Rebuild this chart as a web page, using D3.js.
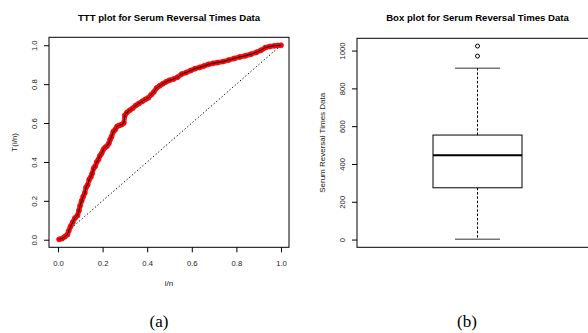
<!DOCTYPE html>
<html>
<head>
<meta charset="utf-8">
<script src="https://cdn.jsdelivr.net/npm/d3@7"></script>
<style>
  body { margin: 0; background: #fff; }
  svg { display: block; font-family: "Liberation Sans", Arial, sans-serif; }
</style>
</head>
<body>
<svg width="588" height="333"></svg>
<script>
// TTT curve: i/n and T(i/n)
var tttU = [0.005, 0.018, 0.030, 0.042, 0.048, 0.056, 0.066, 0.076, 0.087, 0.094,
    0.099, 0.106, 0.113, 0.120, 0.126, 0.133, 0.140, 0.147, 0.153, 0.160,
    0.167, 0.174, 0.181, 0.188, 0.196, 0.204, 0.212, 0.220, 0.228, 0.234,
    0.240, 0.248, 0.256, 0.265, 0.275, 0.285, 0.295, 0.300, 0.310, 0.322,
    0.335, 0.348, 0.362, 0.378, 0.392, 0.405, 0.418, 0.430, 0.442, 0.456,
    0.470, 0.485, 0.500, 0.518, 0.536, 0.555, 0.575, 0.595, 0.615, 0.635,
    0.655, 0.675, 0.695, 0.715, 0.740, 0.765, 0.790, 0.815, 0.840, 0.865,
    0.890, 0.910, 0.930, 0.950, 0.970, 0.985, 1.000];
var tttT = [0.002, 0.006, 0.015, 0.026, 0.045, 0.068, 0.090, 0.112, 0.124, 0.150,
    0.175, 0.200, 0.222, 0.240, 0.270, 0.282, 0.310, 0.322, 0.340, 0.368,
    0.378, 0.400, 0.412, 0.432, 0.445, 0.465, 0.475, 0.482, 0.496, 0.515,
    0.530, 0.556, 0.565, 0.583, 0.588, 0.592, 0.600, 0.640, 0.656, 0.666,
    0.676, 0.690, 0.700, 0.712, 0.722, 0.730, 0.746, 0.760, 0.780, 0.792,
    0.802, 0.812, 0.820, 0.826, 0.836, 0.852, 0.860, 0.870, 0.880, 0.886,
    0.894, 0.902, 0.907, 0.911, 0.916, 0.924, 0.932, 0.940, 0.946, 0.954,
    0.964, 0.974, 0.988, 0.994, 0.997, 0.999, 1.000];
var tttTicks = [0, 0.2, 0.4, 0.6, 0.8, 1.0];

// box plot summary (days)
var boxStats = {lo: 2, q1: 274, med: 446, q3: 553, hi: 907};
var boxOutliers = [971, 1024];
var boxTicks = [0, 200, 400, 600, 800, 1000];

var svg = d3.select("svg");
var tickFont = "7.7px", labFont = "8px", titleFont = "9.6px";

// ---------- (a) TTT plot ----------
var pa = {left: 49, right: 289, top: 37.3, bottom: 247.3};
var x = d3.scaleLinear().domain([-0.0404, 1.0359]).range([pa.left, pa.right]);
var y = d3.scaleLinear().domain([-0.039, 1.041]).range([pa.bottom, pa.top]);

var a = svg.append("g");

// diagonal reference
a.append("line")
    .attr("x1", x(0)).attr("y1", y(0))
    .attr("x2", x(1)).attr("y2", y(1))
    .attr("stroke", "#000").attr("stroke-width", 1)
    .attr("stroke-dasharray", "1.3,2.2");

var pts = tttU.map(function(d, i) { return [d, tttT[i]]; });
var line = d3.line().x(function(d) { return x(d[0]); }).y(function(d) { return y(d[1]); });

// red band of overlapping markers
a.append("path").datum(pts)
    .attr("d", line).attr("fill", "none")
    .attr("stroke", "#f22").attr("stroke-width", 5)
    .attr("stroke-linejoin", "round").attr("stroke-linecap", "round");

a.selectAll(".pt").data(pts).enter().append("circle")
    .attr("class", "pt")
    .attr("cx", function(d) { return x(d[0]); })
    .attr("cy", function(d) { return y(d[1]); })
    .attr("r", 2.5)
    .attr("fill", "#f00").attr("stroke", "#e11").attr("stroke-width", 0.6);

a.append("path").datum(pts)
    .attr("d", line).attr("fill", "none")
    .attr("stroke", "#000").attr("stroke-width", 1);

a.append("rect")
    .attr("x", pa.left).attr("y", pa.top)
    .attr("width", pa.right - pa.left).attr("height", pa.bottom - pa.top)
    .attr("fill", "none").attr("stroke", "#000").attr("stroke-width", 1);

var xAx = a.append("g")
    .attr("transform", "translate(0," + pa.bottom + ")")
    .call(d3.axisBottom(x).tickValues(tttTicks).tickSize(5).tickFormat(d3.format(".1f")));
xAx.select(".domain").remove();
xAx.selectAll("text").attr("y", 0).attr("dy", "0")
    .attr("transform", "translate(0,18.7)")
    .style("font-size", tickFont).attr("fill", "#222");

var yAx = a.append("g")
    .attr("transform", "translate(" + pa.left + ",0)")
    .call(d3.axisLeft(y).tickValues(tttTicks).tickSize(5).tickFormat(d3.format(".1f")));
yAx.select(".domain").remove();
yAx.selectAll("text").attr("x", 0).attr("dy", "0")
    .attr("text-anchor", "middle")
    .attr("transform", "translate(-11.7,0) rotate(-90)")
    .style("font-size", tickFont).attr("fill", "#222");

a.append("text").attr("x", (pa.left + pa.right) / 2).attr("y", 20.8)
    .attr("text-anchor", "middle").style("font-size", titleFont).style("font-weight", "bold")
    .text("TTT plot for Serum Reversal Times Data");
a.append("text").attr("x", (pa.left + pa.right) / 2).attr("y", 285.5)
    .attr("text-anchor", "middle").style("font-size", labFont).attr("fill", "#222")
    .text("i/n");
a.append("text").attr("transform", "translate(16.8," + (pa.top + pa.bottom) / 2 + ") rotate(-90)")
    .attr("text-anchor", "middle").style("font-size", labFont).attr("fill", "#222")
    .text("T(i/n)");

// ---------- (b) box plot ----------
var pb = {left: 357, right: 598, top: 38.3, bottom: 247.3};
var yb = d3.scaleLinear().domain([-41, 1065]).range([pb.bottom, pb.top]);
var cx = 477.5, boxW = 89, capW = 45;

var b = svg.append("g");

b.append("line")
    .attr("x1", cx).attr("x2", cx)
    .attr("y1", yb(boxStats.q3)).attr("y2", yb(boxStats.hi))
    .attr("stroke", "#000").attr("stroke-dasharray", "2.5,1.8");
b.append("line")
    .attr("x1", cx).attr("x2", cx)
    .attr("y1", yb(boxStats.q1)).attr("y2", yb(boxStats.lo))
    .attr("stroke", "#000").attr("stroke-dasharray", "2.5,1.8");
[boxStats.lo, boxStats.hi].forEach(function(v) {
    b.append("line")
        .attr("x1", cx - capW / 2).attr("x2", cx + capW / 2)
        .attr("y1", yb(v)).attr("y2", yb(v))
        .attr("stroke", "#333").attr("stroke-width", 1);
});
b.append("rect")
    .attr("x", cx - boxW / 2).attr("width", boxW)
    .attr("y", yb(boxStats.q3)).attr("height", yb(boxStats.q1) - yb(boxStats.q3))
    .attr("fill", "#fff").attr("stroke", "#000").attr("stroke-width", 1);
b.append("line")
    .attr("x1", cx - boxW / 2).attr("x2", cx + boxW / 2)
    .attr("y1", yb(boxStats.med)).attr("y2", yb(boxStats.med))
    .attr("stroke", "#000").attr("stroke-width", 2.2);
b.selectAll(".out").data(boxOutliers).enter().append("circle")
    .attr("class", "out")
    .attr("cx", cx).attr("cy", function(d) { return yb(d); })
    .attr("r", 2).attr("fill", "none").attr("stroke", "#000").attr("stroke-width", 1);

b.append("rect")
    .attr("x", pb.left).attr("y", pb.top)
    .attr("width", pb.right - pb.left).attr("height", pb.bottom - pb.top)
    .attr("fill", "none").attr("stroke", "#000").attr("stroke-width", 1);

var ybAx = b.append("g")
    .attr("transform", "translate(" + pb.left + ",0)")
    .call(d3.axisLeft(yb).tickValues(boxTicks).tickSize(5).tickFormat(d3.format("d")));
ybAx.select(".domain").remove();
ybAx.selectAll("text").attr("x", 0).attr("dy", "0")
    .attr("text-anchor", "middle")
    .attr("transform", "translate(-12,0) rotate(-90)")
    .style("font-size", tickFont).attr("fill", "#222");

b.append("text").attr("x", cx).attr("y", 20.8)
    .attr("text-anchor", "middle").style("font-size", titleFont).style("font-weight", "bold")
    .text("Box plot for Serum Reversal Times Data");
b.append("text").attr("transform", "translate(325.3," + (pb.top + pb.bottom) / 2 + ") rotate(-90)")
    .attr("text-anchor", "middle").style("font-size", labFont).attr("fill", "#222")
    .text("Serum Reversal Times Data");

// panel captions
svg.append("text").attr("x", 159).attr("y", 327)
    .attr("text-anchor", "middle")
    .style("font-family", "'Liberation Serif', 'Times New Roman', serif").style("font-size", "17px")
    .text("(a)");
svg.append("text").attr("x", 467).attr("y", 327)
    .attr("text-anchor", "middle")
    .style("font-family", "'Liberation Serif', 'Times New Roman', serif").style("font-size", "17px")
    .text("(b)");
</script>
</body>
</html>
